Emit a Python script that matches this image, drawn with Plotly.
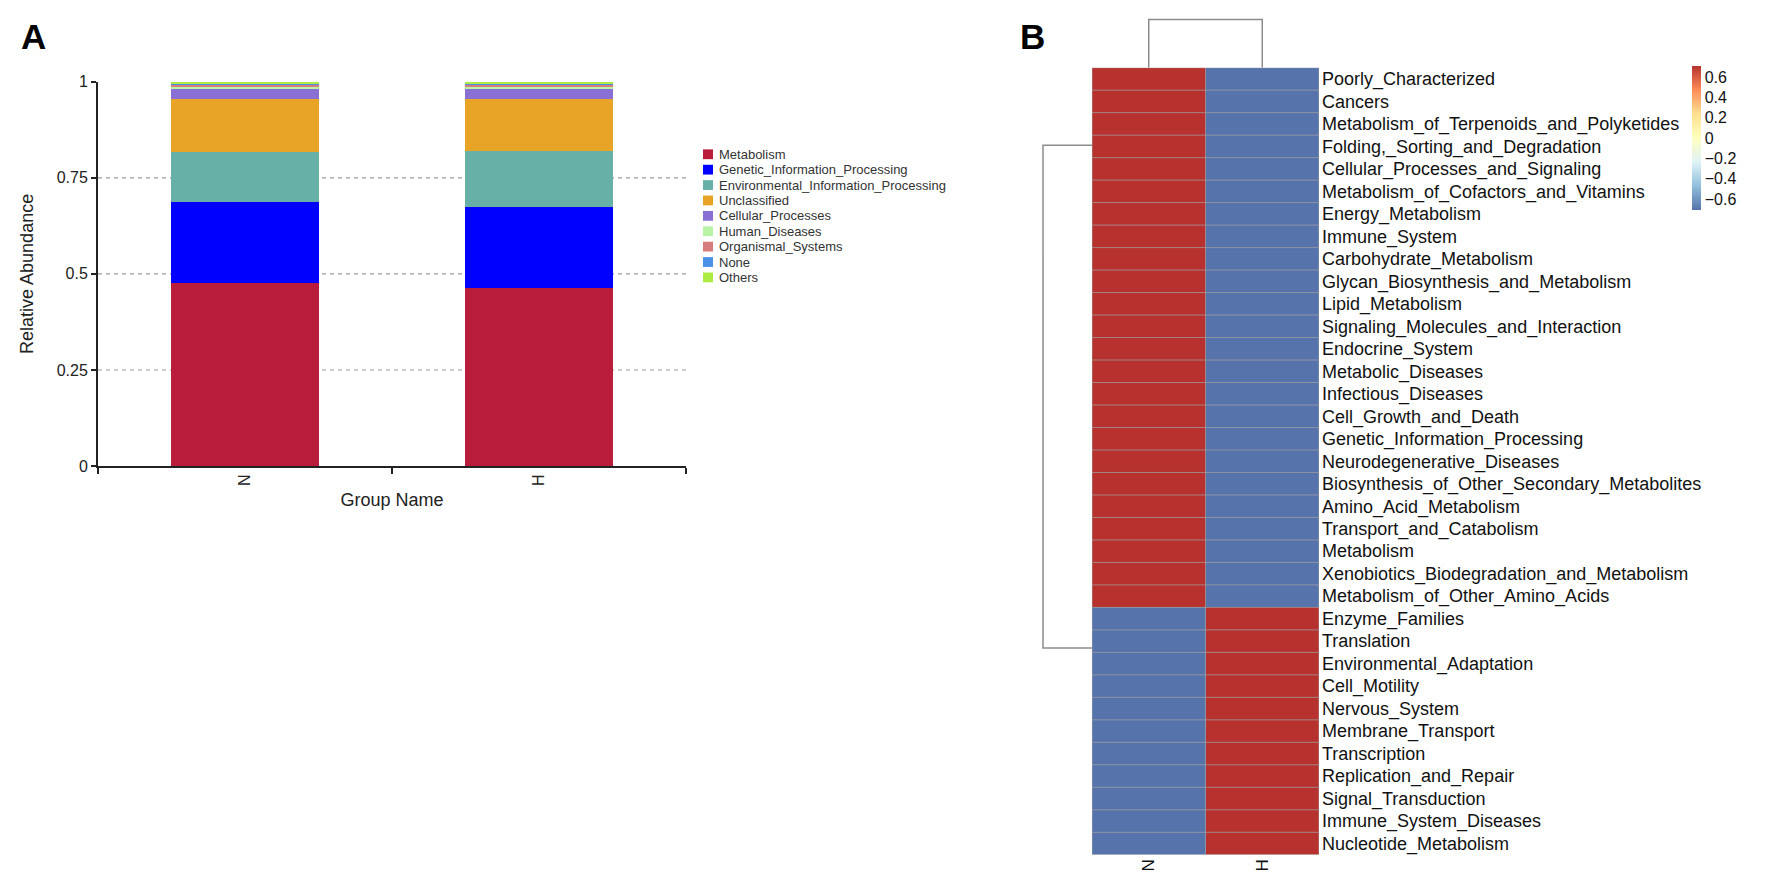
import plotly.graph_objects as go

W, H = 1772, 875

# ---------------- Panel A data ----------------
groups = ["N", "H"]
categories = ["Metabolism", "Genetic_Information_Processing",
              "Environmental_Information_Processing", "Unclassified",
              "Cellular_Processes", "Human_Diseases", "Organismal_Systems",
              "None", "Others"]
abund_N = [0.477, 0.211, 0.130, 0.138, 0.026, 0.005, 0.006, 0.003, 0.004]
abund_H = [0.463, 0.211, 0.146, 0.136, 0.026, 0.005, 0.006, 0.003, 0.004]
cat_colors = ["#BA1C3B", "#0000FF", "#67B0A7", "#E8A427", "#8A6FD5",
              "#B9F3A5", "#D87D7D", "#4A90E8", "#ADEB45"]
y_ticks = [0, 0.25, 0.5, 0.75, 1]
y_ticktext = ["0", "0.25", "0.5", "0.75", "1"]
grid_vals = [0.25, 0.5, 0.75]

# ---------------- Panel B data ----------------
pathways = ["Poorly_Characterized", "Cancers",
            "Metabolism_of_Terpenoids_and_Polyketides",
            "Folding,_Sorting_and_Degradation",
            "Cellular_Processes_and_Signaling",
            "Metabolism_of_Cofactors_and_Vitamins", "Energy_Metabolism",
            "Immune_System", "Carbohydrate_Metabolism",
            "Glycan_Biosynthesis_and_Metabolism", "Lipid_Metabolism",
            "Signaling_Molecules_and_Interaction", "Endocrine_System",
            "Metabolic_Diseases", "Infectious_Diseases",
            "Cell_Growth_and_Death", "Genetic_Information_Processing",
            "Neurodegenerative_Diseases",
            "Biosynthesis_of_Other_Secondary_Metabolites",
            "Amino_Acid_Metabolism", "Transport_and_Catabolism", "Metabolism",
            "Xenobiotics_Biodegradation_and_Metabolism",
            "Metabolism_of_Other_Amino_Acids", "Enzyme_Families",
            "Translation", "Environmental_Adaptation", "Cell_Motility",
            "Nervous_System", "Membrane_Transport", "Transcription",
            "Replication_and_Repair", "Signal_Transduction",
            "Immune_System_Diseases", "Nucleotide_Metabolism"]
zscore_N = [0.707, 0.707, 0.707, 0.707, 0.707, 0.707, 0.707, 0.707, 0.707,
            0.707, 0.707, 0.707, 0.707, 0.707, 0.707, 0.707, 0.707, 0.707,
            0.707, 0.707, 0.707, 0.707, 0.707, 0.707,
            -0.707, -0.707, -0.707, -0.707, -0.707, -0.707, -0.707, -0.707,
            -0.707, -0.707, -0.707]
zscore_H = [-0.707, -0.707, -0.707, -0.707, -0.707, -0.707, -0.707, -0.707,
            -0.707, -0.707, -0.707, -0.707, -0.707, -0.707, -0.707, -0.707,
            -0.707, -0.707, -0.707, -0.707, -0.707, -0.707, -0.707, -0.707,
            0.707, 0.707, 0.707, 0.707, 0.707, 0.707, 0.707, 0.707, 0.707,
            0.707, 0.707]
hm_cols = ["N", "H"]
cbar_ticks = [-0.6, -0.4, -0.2, 0, 0.2, 0.4, 0.6]
# dendrograms: branch positions (row or column index) and merge height
row_branch_pos = [2.95, 25.3]
col_branch_pos = [0, 1]
merge_height = [1.0]

FONT = "Liberation Sans, Arial, sans-serif"
DEND = "#8C8C8C"

fig = go.Figure()

# ---- stacked bars ----
for i, cat in enumerate(categories):
    fig.add_trace(go.Bar(x=groups, y=[abund_N[i], abund_H[i]], name=cat,
                         marker=dict(color=cat_colors[i], line=dict(width=0)),
                         width=0.505, xaxis="x", yaxis="y"))

# ---- heatmap ----
z = [[zscore_N[r], zscore_H[r]] for r in range(len(pathways))]
colorscale = [[0.0, "#5673AC"], [1/6, "#91BFDB"], [2/6, "#E0F3F8"],
              [0.5, "#FFFFBF"], [4/6, "#FEE090"], [5/6, "#FC8D59"],
              [1.0, "#B7322E"]]
fig.add_trace(go.Heatmap(
    z=z, x=hm_cols, y=pathways, xaxis="x2", yaxis="y2",
    colorscale=colorscale, zmin=-0.7071, zmax=0.7071,
    colorbar=dict(x=1684 / W, xanchor="left", y=1 - 51 / H, yanchor="top",
                  len=147 / H, lenmode="fraction", thickness=9,
                  outlinewidth=0, ticks="", tickvals=cbar_ticks,
                  xpad=0, ypad=0,
                  tickfont=dict(family=FONT, size=16, color="#111"))))

# ---- column dendrogram ----
h = merge_height[0]
fig.add_trace(go.Scatter(
    x=[col_branch_pos[0], col_branch_pos[0], col_branch_pos[1], col_branch_pos[1]],
    y=[0, h, h, 0], mode="lines", line=dict(color=DEND, width=1.5),
    hoverinfo="skip", xaxis="x3", yaxis="y3", showlegend=False))
# ---- row dendrogram ----
fig.add_trace(go.Scatter(
    x=[0, h, h, 0],
    y=[row_branch_pos[0], row_branch_pos[0], row_branch_pos[1], row_branch_pos[1]],
    mode="lines", line=dict(color=DEND, width=1.5),
    hoverinfo="skip", xaxis="x4", yaxis="y4", showlegend=False))

n_rows = len(pathways)
shapes = []
# dashed grid lines for panel A
for g in grid_vals:
    shapes.append(dict(type="line", xref="x domain", yref="y", x0=0, x1=1,
                       y0=g, y1=g, layer="below",
                       line=dict(color="#9A9A9A", width=1.2, dash="4px,4px")))
# cell borders for heatmap
for r in range(n_rows + 1):
    shapes.append(dict(type="line", xref="x2", yref="y2", x0=-0.5, x1=1.5,
                       y0=r - 0.5, y1=r - 0.5, layer="above",
                       line=dict(color="rgba(160,160,160,0.75)", width=1)))
for c in range(len(hm_cols) + 1):
    shapes.append(dict(type="line", xref="x2", yref="y2", x0=c - 0.5, x1=c - 0.5,
                       y0=-0.5, y1=n_rows - 0.5, layer="above",
                       line=dict(color="rgba(160,160,160,0.75)", width=1)))

annotations = []
# manual legend for panel A
for k, cat in enumerate(categories):
    yc = 1 - (141 + 15.7 * k) / H
    shapes.append(dict(type="rect", xref="paper", yref="paper",
                       x0=695 / W, x1=705 / W, y0=yc - 5 / H, y1=yc + 5 / H,
                       fillcolor=cat_colors[k], line=dict(width=0)))
    annotations.append(dict(text=cat, xref="paper", yref="paper", x=709 / W,
                            y=yc, xanchor="left", yanchor="middle",
                            showarrow=False,
                            font=dict(family=FONT, size=13, color="#333")))
# panel letters
annotations.append(dict(text="<b>A</b>", xref="paper", yref="paper",
                        x=11 / W, y=1 - 21 / H, xanchor="left", yanchor="middle",
                        showarrow=False, font=dict(family=FONT, size=35, color="black")))
annotations.append(dict(text="<b>B</b>", xref="paper", yref="paper",
                        x=1010 / W, y=1 - 21 / H, xanchor="left", yanchor="middle",
                        showarrow=False, font=dict(family=FONT, size=35, color="black")))

hm_x_dom = [1084 / W, 1311 / W]
hm_y_dom = [1 - 855.4 / H, 1 - 52.7 / H]

fig.update_layout(
    width=W, height=H, margin=dict(l=0, r=0, t=0, b=0),
    paper_bgcolor="white", plot_bgcolor="white",
    barmode="stack", showlegend=False, bargap=0,
    font=dict(family=FONT, color="#111"),
    shapes=shapes, annotations=annotations,
    xaxis=dict(domain=[90 / W, 678 / W], anchor="y", type="category",
               range=[-0.5, 1.5], showline=True, linecolor="#222", linewidth=2,
               ticks="outside", tickson="boundaries", ticklen=6, tickwidth=1.5,
               tickcolor="#222", tickangle=-90,
               tickfont=dict(family=FONT, size=16, color="#222"),
               title=dict(text="Group Name", standoff=8,
                          font=dict(family=FONT, size=18, color="#222")),
               showgrid=False, zeroline=False, fixedrange=True),
    yaxis=dict(domain=[1 - 459 / H, 1 - 67 / H], anchor="x", range=[0, 1],
               showline=True, linecolor="#222", linewidth=2, ticks="outside",
               ticklen=5, tickwidth=1.5, tickcolor="#222",
               tickvals=y_ticks, ticktext=y_ticktext,
               tickfont=dict(family=FONT, size=16, color="#222"),
               title=dict(text="Relative Abundance", standoff=18,
                          font=dict(family=FONT, size=18, color="#222")),
               showgrid=False, zeroline=False),
    xaxis2=dict(domain=hm_x_dom, anchor="y2", type="category",
                range=[-0.5, 1.5], showline=False, ticks="", tickangle=-90,
                tickfont=dict(family=FONT, size=17, color="#111"),
                showgrid=False, zeroline=False),
    yaxis2=dict(domain=hm_y_dom, anchor="x2", side="right", type="category",
                range=[n_rows - 0.5, -0.5], showline=False, ticks="",
                ticklabelstandoff=2,
                tickfont=dict(family=FONT, size=18, color="#111"),
                showgrid=False, zeroline=False),
    xaxis3=dict(domain=hm_x_dom, anchor="y3", range=[-0.5, 1.5],
                visible=False),
    yaxis3=dict(domain=[1 - 52.7 / H, 1.0], anchor="x3",
                range=[0, 52.7 / 49.2], visible=False),
    xaxis4=dict(domain=[1030 / W, 1084 / W], anchor="y4",
                range=[54 / 49, 0], visible=False),
    yaxis4=dict(domain=hm_y_dom, anchor="x4", range=[n_rows - 0.5, -0.5],
                visible=False),
)

fig.write_html("out.html")
